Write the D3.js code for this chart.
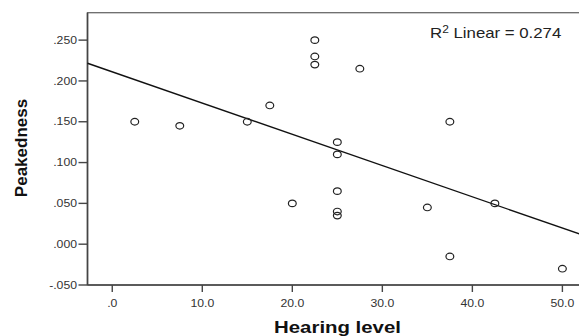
<!DOCTYPE html>
<html><head><meta charset="utf-8">
<script src="https://cdn.jsdelivr.net/npm/d3@7"></script>
<style>body{margin:0;background:#fff}svg{display:block}text{font-family:Arial,"Liberation Sans",sans-serif}</style>
</head><body>
<svg id="c" width="579" height="336"></svg>
<script>
const hearing    = [2.5, 7.5, 15, 17.5, 22.5, 22.5, 22.5, 27.5, 25, 25, 25, 25, 25, 20, 37.5, 37.5, 35, 42.5, 50];
const peakedness = [0.150, 0.145, 0.150, 0.170, 0.250, 0.230, 0.220, 0.215, 0.125, 0.110, 0.065, 0.040, 0.035, 0.050, 0.150, -0.015, 0.045, 0.050, -0.030];
const xTicks = [0, 10, 20, 30, 40, 50];
const yTicks = [-0.05, 0, 0.05, 0.10, 0.15, 0.20, 0.25];
const xTitle = "Hearing level";
const yTitle = "Peakedness";
const r2Label = "0.274";

const svg = d3.select("#c");
const x = d3.scaleLinear().domain([-2.75, 51.9]).range([87.5, 579.5]);
const y = d3.scaleLinear().domain([-0.05, 0.2836]).range([285, 12.7]);
const sx = 1.2;
const axisCol = "#454545";

// frame
svg.append("rect").attr("x", x.range()[0]).attr("y", y.range()[1])
  .attr("width", 600).attr("height", y.range()[0] - y.range()[1])
  .attr("fill", "none").attr("stroke", "#6a6a6a").attr("stroke-width", 1.3);

// y axis
const fy = v => d3.format(".3f")(v).replace("\u2212", "-").replace(/^(-?)0\./, "$1.");
const gy = svg.append("g");
gy.append("line").attr("x1", 87.5).attr("x2", 87.5).attr("y1", y.range()[1]).attr("y2", 285)
  .attr("stroke", axisCol).attr("stroke-width", 1.6);
yTicks.forEach(t => {
  gy.append("line").attr("x1", 78.5).attr("x2", 87.5).attr("y1", y(t)).attr("y2", y(t))
    .attr("stroke", axisCol).attr("stroke-width", 1.4);
  gy.append("text").attr("transform", `translate(77,${y(t) + 3.7}) scale(${sx},1)`)
    .attr("text-anchor", "end").attr("font-size", 10.2).attr("fill", "#333").text(fy(t));
});

// x axis
const fx = v => d3.format(".1f")(v).replace("\u2212", "-").replace(/^(-?)0\./, "$1.");
const gx = svg.append("g");
gx.append("line").attr("x1", 87.5).attr("x2", 600).attr("y1", 285).attr("y2", 285)
  .attr("stroke", axisCol).attr("stroke-width", 1.6);
xTicks.forEach(t => {
  gx.append("line").attr("x1", x(t)).attr("x2", x(t)).attr("y1", 285).attr("y2", 292)
    .attr("stroke", axisCol).attr("stroke-width", 1.4);
  gx.append("text").attr("transform", `translate(${x(t)},306.5) scale(${sx},1)`)
    .attr("text-anchor", "middle").attr("font-size", 10.2).attr("fill", "#333").text(fx(t));
});

// titles
svg.append("text").attr("transform", `translate(337.5,333) scale(${sx},1)`)
  .attr("text-anchor", "middle").attr("font-size", 17).attr("font-weight", "bold")
  .attr("fill", "#111").text(xTitle);
svg.append("text").attr("transform", "translate(26.5,148) rotate(-90)")
  .attr("text-anchor", "middle").attr("font-size", 17).attr("font-weight", "bold")
  .attr("fill", "#111").text(yTitle);

// regression line
const mx = d3.mean(hearing), my = d3.mean(peakedness);
let sxy = 0, sxx = 0;
hearing.forEach((h, i) => { sxy += (h - mx) * (peakedness[i] - my); sxx += (h - mx) * (h - mx); });
const slope = sxy / sxx, icpt = my - slope * mx;
const [x0, x1] = x.domain();
svg.append("line").attr("x1", x(x0)).attr("y1", y(icpt + slope * x0))
  .attr("x2", x(x1)).attr("y2", y(icpt + slope * x1))
  .attr("stroke", "#111").attr("stroke-width", 1.4);

// points
svg.append("g").selectAll("ellipse").data(hearing.map((h, i) => [h, peakedness[i]]))
  .join("ellipse").attr("cx", d => x(d[0])).attr("cy", d => y(d[1]))
  .attr("rx", 3.9).attr("ry", 3.3).attr("fill", "none")
  .attr("stroke", "#222").attr("stroke-width", 1.2);

// R2 label
const rt = svg.append("text").attr("transform", `translate(430,37.5) scale(${sx},1)`)
  .attr("font-size", 14).attr("fill", "#222");
rt.append("tspan").text("R");
rt.append("tspan").attr("font-size", 10).attr("dy", -5).text("2");
rt.append("tspan").attr("dy", 5).text(" Linear = " + r2Label);
</script>
</body></html>
